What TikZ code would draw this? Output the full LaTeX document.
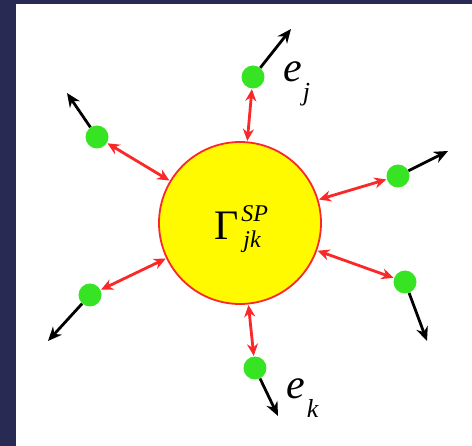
\documentclass[tikz,border=0pt]{standalone}
\usepackage{fontspec}
\setmainfont{Liberation Serif}
\usetikzlibrary{arrows.meta}
\definecolor{slidenavy}{RGB}{40,42,84}
\definecolor{coreyellow}{RGB}{255,250,0}
\definecolor{corered}{RGB}{250,40,40}
\definecolor{sitegreen}{RGB}{55,228,35}
\tikzset{
  core/.style={circle, draw=corered, fill=coreyellow, line width=1.8pt, minimum size=162pt, inner sep=0pt},
  site/.style={circle, fill=sitegreen, minimum size=23pt, inner sep=0pt},
  link/.style={draw=corered, line width=2.8pt, {Stealth[length=12pt,width=11pt]}-{Stealth[length=12pt,width=11pt]}, shorten <=0.5pt, shorten >=0.5pt},
  kick/.style={draw=black, line width=2.8pt, -{Stealth[length=14pt,width=12pt]}},
  big/.style={font=\fontsize{42}{42}\selectfont, inner sep=0pt, anchor=base west}
}
\begin{document}
\begin{tikzpicture}[x=1pt,y=-1pt]
\fill[slidenavy] (0,0) rectangle (472,446);
\fill[white] (16,4) rectangle (472,446);
\node[core] (c) at (240,223) {};
\node[big] (g) at (214,240) {Γ\hspace{3pt}\rlap{\raisebox{18pt}{\fontsize{24}{24}\selectfont\itshape SP}}\raisebox{-8pt}{\fontsize{24}{24}\selectfont\itshape\hspace{2pt}jk}};
% outer sites
\node[site] (s1) at (253,77) {};
\node[site] (s2) at (97,137) {};
\node[site] (s3) at (398,176) {};
\node[site] (s4) at (405,282) {};
\node[site] (s5) at (90,295) {};
\node[site] (s6) at (255,368) {};
\coordinate (t1) at (291,29);
\coordinate (t2) at (67,93);
\coordinate (t3) at (448,151);
\coordinate (t4) at (427,341);
\coordinate (t5) at (48,341);
\coordinate (t6) at (278,416);
\foreach \i in {1,...,6} {
  \draw[link] (c) -- (s\i);
  \draw[kick] (s\i) -- (t\i);
}
\node[big] (lj) at (283,82) {\itshape e\hspace{1pt}\raisebox{-19pt}{\fontsize{26}{26}\selectfont j}};
\node[big] (lk) at (286,399) {\itshape e\hspace{2pt}\raisebox{-19pt}{\fontsize{26}{26}\selectfont k}};
\end{tikzpicture}
\end{document}
